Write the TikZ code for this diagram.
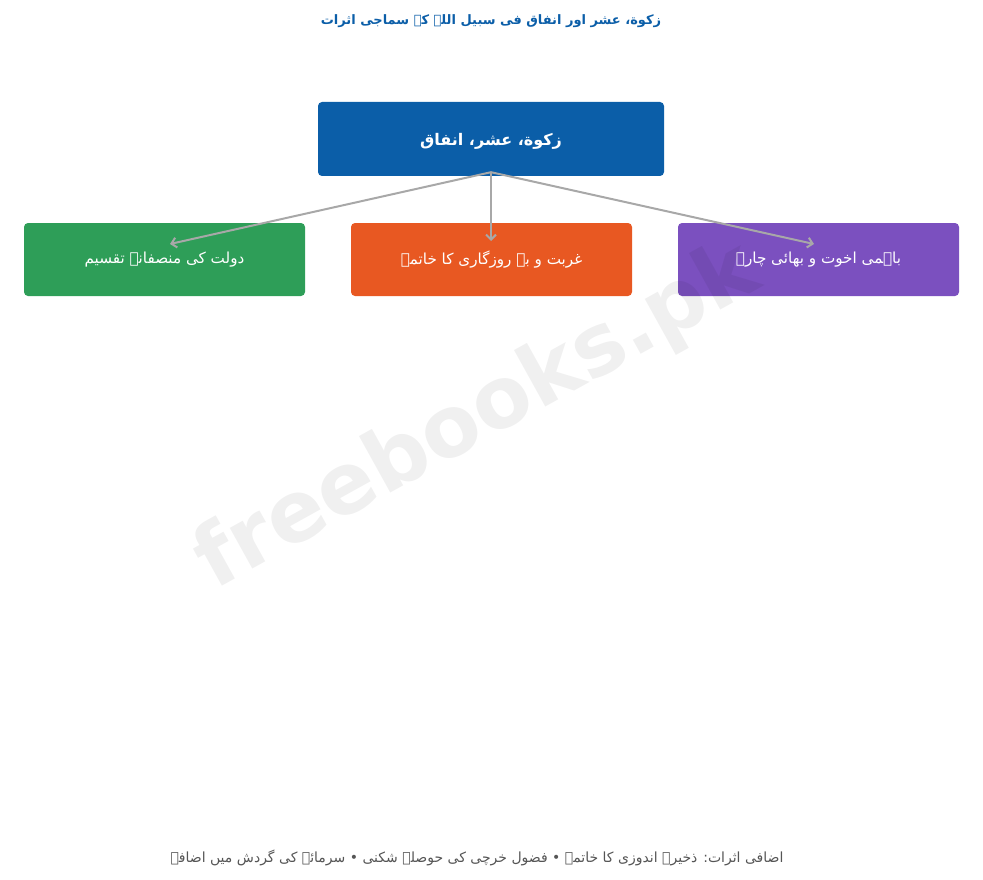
\documentclass[tikz,border=0pt]{standalone}
\usepackage{fontspec}
\newfontfamily\urdufont[Script=Arabic]{DejaVu Sans}
\newfontfamily\markfont{DejaVu Sans}
\TeXXeTstate=1
\usetikzlibrary{arrows.meta}
\definecolor{rootblue}{HTML}{0B5EA8}
\definecolor{wealthgreen}{HTML}{2E9E58}
\definecolor{povertyorange}{HTML}{E85822}
\definecolor{brotherpurple}{HTML}{7B50BF}
\definecolor{linkgray}{HTML}{A8A8A8}
\definecolor{notegray}{HTML}{555555}
\begin{document}
\begin{tikzpicture}[x=1pt,y=-1pt,
	box/.style={rounded corners=4pt, inner sep=0pt, minimum width=281pt, minimum height=73pt, text=white, font=\urdufont\fontsize{15.2}{18}\selectfont},
	link/.style={draw=linkgray, line width=2pt, -{Straight Barb[length=5pt,width=10pt]}}]
	
	\useasboundingbox (0,0) rectangle (983,880);
	
	\node[text=rootblue, font=\urdufont\bfseries\fontsize{13}{16}\selectfont] (title) at (491,21) {\beginR زکوة، عشر اور انفاق فی سبیل اللہ کے سماجی اثرات\endR};
	
	\node[box, fill=rootblue, minimum width=346pt, minimum height=74pt] (root) at (491,139) {}; % root
	\node[text=white, font=\urdufont\bfseries\fontsize{16}{19}\selectfont] (roottext) at (491,141) {\beginR زکوة، عشر، انفاق\endR};
	
	\node[box, fill=wealthgreen] (wealth) at (164.5,259.5) {\beginR دولت کی منصفانہ تقسیم\endR};
	\node[box, fill=povertyorange] (poverty) at (491.5,259.5) {\beginR غربت و بے روزگاری کا خاتمہ\endR};
	\node[box, fill=brotherpurple] (brother) at (818.5,259.5) {\beginR باہمی اخوت و بھائی چارہ\endR};
	
	\coordinate (hub) at ([yshift=4pt]root.south);
	\coordinate (wealthtip) at (170,244);
	\coordinate (povertytip) at (491,241);
	\coordinate (brothertip) at (814,244);
	
	\draw[link] (hub) -- (wealthtip);
	\draw[link] (hub) -- (povertytip);
	\draw[link] (hub) -- (brothertip);
	
	\node[text=notegray, font=\urdufont\fontsize{14}{17}\selectfont] (note) at (477,858) {\beginR اضافی اثرات: ذخیرہ اندوزی کا خاتمہ • فضول خرچی کی حوصلہ شکنی • سرمائے کی گردش میں اضافہ\endR};
	
	\node[rotate=29, text=black, opacity=0.06, font=\markfont\bfseries\fontsize{85}{88}\selectfont] (mark) at (478,418) {freebooks.pk}; % watermark
	
\end{tikzpicture}
\end{document}
